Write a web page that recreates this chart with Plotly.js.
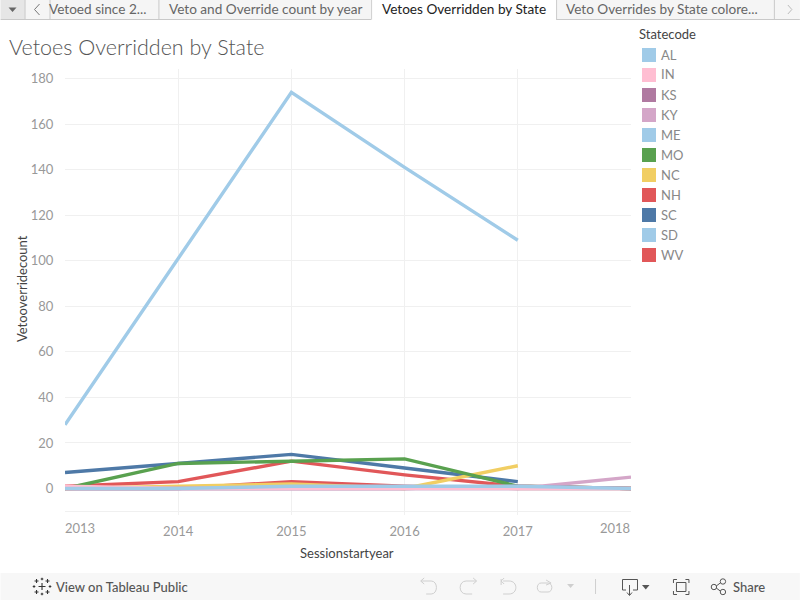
<!DOCTYPE html>
<html><head><meta charset="utf-8">
<script src="https://cdn.plot.ly/plotly-3.0.1.min.js"></script>
<style>html,body{margin:0;padding:0;background:#fff;overflow:hidden}#c{width:800px;height:600px}</style>
</head><body><div id="c"></div>
<script>
const years=[2013,2014,2015,2016,2017,2018];
const states=["AL","IN","KS","KY","ME","MO","NC","NH","SC","SD","WV"];
const colors=["#a0cbe8","#ffbed2","#b07aa1","#d4a6c8","#a0cbe8","#59a14f","#f1ce63","#e15759","#4e79a7","#a0cbe8","#e15759"];
const AL=[0,0,1,1,1,0];
const IN=[1,0,0,0,0,0];
const KS=[0,0,0,0,1,0];
const KY=[0,0,0,0,0,5];
const ME=[28,101,174,141,109,null];
const MO=[0,11,12,13,1,0];
const NC=[0,1,2,0,10,null];
const NH=[1,3,12,6,1,0];
const SC=[7,11,15,9,3,null];
const SD=[0,0,0,0,0,0];
const WV=[0,0,3,1,0,0];
const seriesValues=[AL,IN,KS,KY,ME,MO,NC,NH,SC,SD,WV];
const drawOrder=[10,9,8,7,6,5,4,3,2,1,0];
const tabLabels=["Vetoed since 2...","Veto and Override count by year","Vetoes Overridden by State","Veto Overrides by State colore..."];

const W=800,H=600,L=64.5,R=631,T=69,B=515;
const X=x=>(x-L)/(R-L), Y=y=>(B-y)/(B-T);
const tf=s=>s.replace(/(-?[\d.]+)[ ,](-?[\d.]+)/g,(m,a,b)=>X(+a)+" "+Y(+b));
const shapes=[],ann=[];
const rect=(x0,y0,x1,y1,fill,line)=>shapes.push({type:"rect",xref:"paper",yref:"paper",x0:X(x0),x1:X(x1),y0:Y(y0),y1:Y(y1),fillcolor:fill,line:{color:line||fill,width:line?1:0}});
const pth=(d,color,fill,w)=>shapes.push({type:"path",xref:"paper",yref:"paper",path:tf(d),fillcolor:fill||"rgba(0,0,0,0)",line:{color:color,width:w==null?1:w}});
const txt=(x,y,t,size,color,anchor,weight,angle)=>ann.push({xref:"paper",yref:"paper",x:X(anchor==="center"?x:x-2),y:Y(y-0.5),text:t,showarrow:false,xanchor:anchor||"left",yanchor:"middle",textangle:angle||0,font:{family:"Lato",size:size,color:color,weight:weight||400}});

// tab strip
rect(0,0,800,19.5,"#f5f5f5");
rect(0,0,24.5,19,"#e6e6e6");
pth("M8 7.5 L16 7.5 L12 12 Z","#666","#666",0);
pth("M39 4 L34 9.5 L39 15","#777",null,1);
[24.5,49.5,158.5,371.5,556.5,774.5].forEach(x=>pth("M"+x+" 0 L"+x+" 19.5","#c9c9c9",null,1));
pth("M0 19.5 L371 19.5","#c9c9c9",null,1);
pth("M556 19.5 L800 19.5","#c9c9c9",null,1);
rect(372,0,556,20,"#ffffff");
pth("M788 5 L792 9.5 L788 14","#bbb",null,1);
txt(48.5,9.5,tabLabels[0],13.6,"#666");
txt(168.5,9.5,tabLabels[1],13.6,"#666");
txt(381.5,9.5,tabLabels[2],13.6,"#222");
txt(566,9.5,tabLabels[3],13.6,"#666");
// title
txt(8,47.5,"Vetoes Overridden by State",21.5,"#555","left",300);
// legend
txt(639,34.5,"Statecode",13,"#444");
states.forEach((s,i)=>{const y=55+20*i;rect(642,y-7,656,y+7,colors[i]);txt(661,y,s,13,"#888");});
// bottom axis line
pth("M64.5 511.5 L631 511.5","#f0f0f0",null,1);
// axis titles
txt(347,553,"Sessionstartyear",13,"#444","center");
txt(21,289,"Vetooverridecount",13,"#444","center",400,-90);
// axis labels clamped at the plot edges
txt(80,528,"2013",13,"#999","center");
txt(615,528,"2018",13,"#999","center");
// footer
rect(0,573,800,600,"#f7f7f7");
txt(55,587,"View on Tableau Public",13,"#555","left",500);
txt(733,587,"Share",13,"#555","left",500);
// logo built from crosses
const cross=(cx,cy,a)=>"M"+(cx-a)+" "+cy+" L"+(cx+a)+" "+cy+" M"+cx+" "+(cy-a)+" L"+cx+" "+(cy+a)+" ";
let logo=cross(41.5,586.5,3.5);
[[-5.5,-5.5],[5.5,-5.5],[-5.5,5.5],[5.5,5.5]].forEach(o=>logo+=cross(41.5+o[0],586.5+o[1],2));
[[-8,0],[8,0],[0,-7.5],[0,7.5]].forEach(o=>logo+=cross(41.5+o[0],586.5+o[1],1.3));
pth(logo,"#333",null,1.1);
// toolbar
const g="#cfcfcf",d="#555";
pth("M426 594 L431 594 C438 594 438 581 431 581 L421 581 M424 578 L420.5 581 L424 584",g,null,1);
pth("M472 594 L466 594 C458 594 458 581 466 581 L476 581 M473 578 L476.5 581 L473 584",g,null,1);
pth("M501 579 L501 585 M504 578 L501 581 L504 584 M503 581 L509 581 C518 581 518 594 509 594 L503 594",g,null,1);
pth("M541 583 L548 583 C553 583 553 592 548 592 L541 592 C536 592 536 583 541 583 M546 580 L551 583 L546 585",g,null,1);
pth("M567 584 L574 584 L570.5 588 Z",g,g,0);
pth("M595.5 579 L595.5 594",g,null,1);
pth("M626 590 L622.5 590 L622.5 579.5 L637.5 579.5 L637.5 590 L633 590 M629.5 585 L629.5 595 M627 592.5 L629.5 595.5 L632 592.5",d,null,1);
pth("M642 585 L649.5 585 L645.8 589.5 Z",d,d,0);
pth("M673.5 583 L673.5 579.5 L677 579.5 M685.5 579.5 L689 579.5 L689 583 M689 591 L689 594.5 L685.5 594.5 M677 594.5 L673.5 594.5 L673.5 591 M676.5 582.5 L686 582.5 L686 591.5 L676.5 591.5 Z",d,null,1);
pth("M715 587 L721 582.5 M715 587 L721 591.5",d,null,1);
const circ=(cx,cy,r)=>shapes.push({type:"circle",xref:"paper",yref:"paper",x0:X(cx-r),x1:X(cx+r),y0:Y(cy-r),y1:Y(cy+r),fillcolor:"#f7f7f7",line:{color:d,width:1}});
circ(714,587,2.7);circ(723,581.5,2.7);circ(723,592,2.7);

const traces=drawOrder.map(i=>({type:"scatter",mode:"lines",name:states[i],x:years,y:seriesValues[i],
  line:{color:colors[i],width:3.4,shape:"linear"},connectgaps:false,hoverinfo:"x+y+name"}));

Plotly.newPlot("c",traces,{
  width:W,height:H,showlegend:false,paper_bgcolor:"#fff",plot_bgcolor:"#fff",
  margin:{l:L,r:W-R,t:T,b:H-B,pad:0},
  xaxis:{range:[2013,2018],tickvals:[2014,2015,2016,2017],ticktext:["2014","2015","2016","2017"],ticks:"outside",ticklen:4,tickcolor:"rgba(0,0,0,0)",
    tickfont:{family:"Lato",size:13,color:"#999"},gridcolor:"#f0f0f0",gridwidth:1,zeroline:false,showline:false,automargin:false,fixedrange:true},
  yaxis:{range:[-11.63,184.2],tickvals:[0,20,40,60,80,100,120,140,160,180],ticks:"outside",ticklen:8,tickcolor:"rgba(0,0,0,0)",
    tickfont:{family:"Lato",size:13,color:"#999"},gridcolor:"#f0f0f0",gridwidth:1,zeroline:false,showline:false,automargin:false,fixedrange:true},
  shapes:shapes,annotations:ann
},{displayModeBar:false,responsive:false});
</script></body></html>
